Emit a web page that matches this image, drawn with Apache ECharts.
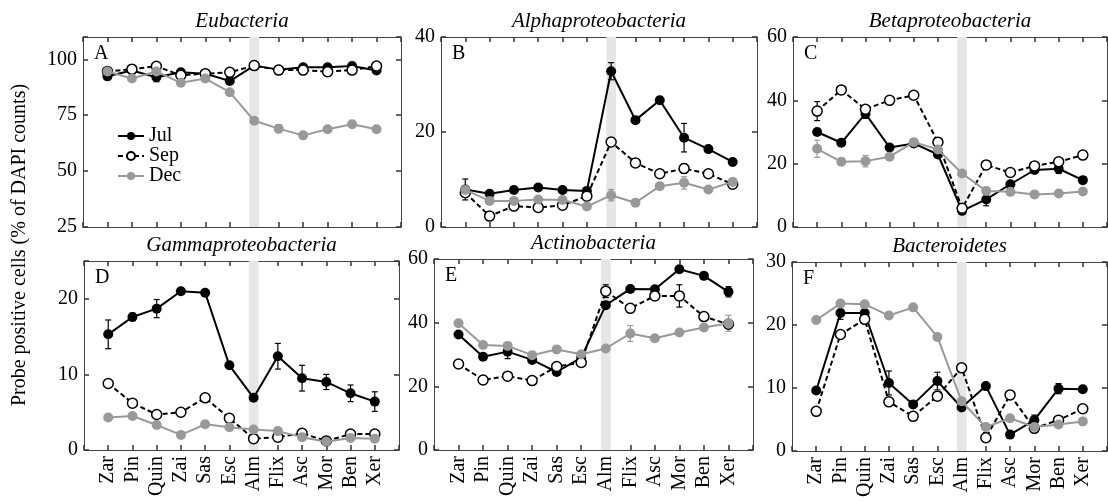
<!DOCTYPE html>
<html>
<head>
<meta charset="utf-8">
<script src="https://cdn.jsdelivr.net/npm/echarts@6/dist/echarts.min.js"></script>
<style>
  html, body { margin: 0; padding: 0; background: #fff; }
  #chart { width: 1108px; height: 502px; }
</style>
</head>
<body>
<div id="chart"></div>
<script>
// sampling sites along the river
const cats = ['Zar', 'Pin', 'Quin', 'Zai', 'Sas', 'Esc', 'Alm', 'Flix', 'Asc', 'Mor', 'Ben', 'Xer'];
const months = ['Jul', 'Sep', 'Dec'];
const titles = ['Eubacteria', 'Alphaproteobacteria', 'Betaproteobacteria',
  'Gammaproteobacteria', 'Actinobacteria', 'Bacteroidetes'];
const letters = ['A', 'B', 'C', 'D', 'E', 'F'];
const yTitle = 'Probe positive cells (% of DAPI counts)';

// y ranges: [min, max, label step]
const yRanges = [[25, 110, 25], [0, 40, 20], [0, 60, 20], [0, 25, 10], [0, 60, 20], [0, 30, 10]];

// Eubacteria
const euJul = [92.4, 95, 92, 94.2, 93.6, 90.3, 97.2, 95.4, 96.5, 96.5, 97, 95];
const euSep = [94.6, 95.6, 96.9, 92.9, 93.6, 94.2, 97.2, 95.2, 95.2, 94.5, 95.2, 97];
const euDec = [94.6, 91.4, 94.6, 89.5, 91.4, 85.3, 72.5, 69, 66, 68.7, 71, 68.7];
const euJulErr = [1, 0, 2, 0, 0, 1, 0, 0, 0.8, 0.8, 0.6, 0.8];
const euSepErr = [0, 0, 0, 0, 0, 0, 0, 0, 0, 1.8, 0, 0];
const euDecErr = [0, 0, 0, 0, 0, 0, 0, 1.8, 0, 1.2, 0, 0];

// Alphaproteobacteria
const alJul = [7.9, 7.0, 7.8, 8.3, 7.8, 7.6, 32.8, 22.5, 26.7, 18.8, 16.4, 13.7];
const alSep = [7.2, 2.3, 4.4, 4.1, 4.6, 6.5, 17.9, 13.5, 11.2, 12.3, 11.2, 9.0];
const alDec = [7.8, 5.5, 5.5, 5.8, 5.7, 4.3, 6.7, 5.1, 8.6, 9.3, 7.9, 9.5];
const alJulErr = [2.2, 0, 0, 0, 0, 0, 1.8, 0, 0.7, 3, 0, 0];
const alSepErr = [0, 0, 0, 0, 0, 0, 0, 0, 0, 1, 0, 0.8];
const alDecErr = [0, 0, 0, 0, 0, 0, 1.2, 0, 0, 1.3, 0, 0];

// Betaproteobacteria
const beJul = [30.0, 26.6, 35.8, 25.1, 26.4, 22.9, 5.1, 8.7, 13.5, 18.0, 18.4, 14.8];
const beSep = [36.6, 43.3, 37.2, 40.0, 41.6, 26.8, 5.9, 19.6, 17.2, 19.3, 20.6, 22.7];
const beDec = [24.7, 20.6, 20.8, 22.2, 26.8, 24.5, 16.9, 11.4, 11.1, 10.3, 10.6, 11.2];
const beJulErr = [0, 0, 1.5, 0, 0, 0, 0, 2, 0, 0, 1.5, 0];
const beSepErr = [3, 0, 0, 0, 0, 0, 0, 0, 0, 0, 0, 0];
const beDecErr = [2.7, 0, 1.8, 0, 0, 0, 0, 0, 0, 0, 0, 0];

// Gammaproteobacteria
const gaJul = [15.3, 17.6, 18.7, 21.0, 20.8, 11.2, 6.9, 12.4, 9.5, 9.0, 7.5, 6.4];
const gaSep = [8.8, 6.2, 4.7, 5.0, 6.9, 4.2, 1.5, 1.7, 2.2, 1.2, 2.1, 2.1];
const gaDec = [4.3, 4.5, 3.3, 2.0, 3.4, 3.0, 2.7, 2.5, 1.7, 1.1, 1.6, 1.5];
const gaJulErr = [1.9, 0.5, 1.2, 0, 0, 0, 0, 1.7, 1.7, 1.0, 1.1, 1.3];
const gaSepErr = [0, 0, 0, 0, 0, 0, 0, 0, 0, 0, 0, 0];
const gaDecErr = [0, 0, 0, 0, 0, 0, 0, 0, 0, 0, 0, 0];

// Actinobacteria
const acJul = [36.3, 29.3, 30.9, 28.3, 24.5, 29.0, 45.5, 50.6, 50.5, 56.8, 54.7, 49.7];
const acSep = [27.0, 22.0, 23.2, 21.8, 26.2, 27.5, 49.9, 44.5, 48.4, 48.4, 41.9, 39.5];
const acDec = [39.8, 33.0, 32.7, 29.8, 31.6, 30.1, 31.9, 36.6, 35.1, 36.9, 38.5, 39.8];
const acJulErr = [0, 0, 2.2, 0, 0, 0, 0, 0, 0, 0, 0, 1.6];
const acSepErr = [0, 0, 0, 0, 0, 0, 2, 0, 0, 3.5, 0, 0];
const acDecErr = [0, 0, 0, 0, 0, 0, 0, 2.5, 0, 0, 0, 2.5];

// Bacteroidetes
const baJul = [9.6, 21.9, 21.9, 10.8, 7.4, 11.1, 6.9, 10.3, 2.6, 4.9, 9.9, 9.8];
const baSep = [6.3, 18.5, 20.9, 7.8, 5.5, 8.7, 13.2, 2.1, 8.9, 3.6, 4.9, 6.7];
const baDec = [20.8, 23.4, 23.3, 21.5, 22.8, 18.1, 7.9, 3.8, 5.2, 3.8, 4.2, 4.7];
const baJulErr = [0, 1, 0, 1.9, 0, 1.4, 0, 0, 0, 0.8, 0.8, 0];
const baSepErr = [0, 0, 0, 0, 0, 0, 0, 0, 0, 0, 0, 0];
const baDecErr = [0, 0, 0, 0, 0, 0, 0, 0, 0, 0, 0, 0];

const panelVals = [
  [euJul, euSep, euDec], [alJul, alSep, alDec], [beJul, beSep, beDec],
  [gaJul, gaSep, gaDec], [acJul, acSep, acDec], [baJul, baSep, baDec]
];
const panelErrs = [
  [euJulErr, euSepErr, euDecErr], [alJulErr, alSepErr, alDecErr], [beJulErr, beSepErr, beDecErr],
  [gaJulErr, gaSepErr, gaDecErr], [acJulErr, acSepErr, acDecErr], [baJulErr, baSepErr, baDecErr]
];

// layout
const FONT = '"Liberation Serif", "DejaVu Serif", serif';
const AXIS = '#444';
const GRAY = '#999';
const grids = [
  { left: 83, top: 37, width: 318, height: 190 },
  { left: 441, top: 37, width: 316, height: 190 },
  { left: 793, top: 37, width: 314, height: 190 },
  { left: 84, top: 261, width: 315, height: 189 },
  { left: 434, top: 259, width: 319, height: 191 },
  { left: 792, top: 262, width: 315, height: 189 }
];
const monthStyle = [
  { symbolColor: '#000', border: '#000', line: '#000', type: 'solid', z: 3 },
  { symbolColor: '#fff', border: '#000', line: '#000', type: [5, 3], z: 4 },
  { symbolColor: GRAY, border: GRAY, line: GRAY, type: 'solid', z: 5 }
];

const xAxes = [];
const yAxes = [];
const series = [];
const graphics = [];

grids.forEach((g, i) => {
  const [yMin, yMax, step] = yRanges[i];
  const bottomRow = i >= 3;
  const tick = { show: true, inside: true, length: 5, lineStyle: { color: '#333', width: 1.5 } };
  const line = { show: true, onZero: false, lineStyle: { color: AXIS, width: 1 } };

  xAxes.push({
    gridIndex: i, type: 'value', position: 'bottom', min: -1, max: 12, interval: 1,
    axisLine: line, splitLine: { show: false }, axisTick: tick,
    axisLabel: {
      show: bottomRow, rotate: 90, margin: 6, fontSize: 20, fontFamily: FONT, color: '#000',
      formatter: v => cats[v] || ''
    }
  });
  xAxes.push({
    gridIndex: i, type: 'value', position: 'top', min: -1, max: 12, interval: 1,
    axisLine: line, splitLine: { show: false }, axisTick: tick,
    axisLabel: { show: false }
  });
  yAxes.push({
    gridIndex: i, type: 'value', position: 'left', min: yMin, max: yMax, interval: step,
    axisLine: line, splitLine: { show: false }, axisTick: tick,
    axisLabel: {
      margin: 6, fontSize: 20, fontFamily: FONT, color: '#000',
      formatter: v => ((v - yMin) % step === 0 ? String(v) : '')
    }
  });
  yAxes.push({
    gridIndex: i, type: 'value', position: 'right', min: yMin, max: yMax, interval: step,
    axisLine: line, splitLine: { show: false }, axisTick: tick,
    axisLabel: { show: false }
  });

  // Alm band
  series.push({
    type: 'line', xAxisIndex: 2 * i, yAxisIndex: 2 * i, data: [], z: 1, silent: true,
    markArea: {
      silent: true, itemStyle: { color: '#e6e6e6' },
      data: [[{ xAxis: 5.8 }, { xAxis: 6.2 }]]
    }
  });

  months.forEach((m, k) => {
    const vals = panelVals[i][k];
    const errs = panelErrs[i][k];
    const st = monthStyle[k];
    const errData = vals.map((v, j) => [j, v, errs[j]]).filter(d => d[2] > 0);
    if (errData.length) {
      series.push({
        type: 'custom', xAxisIndex: 2 * i, yAxisIndex: 2 * i, z: 2, silent: true,
        data: errData,
        renderItem: (params, api) => {
          const x = api.value(0), y = api.value(1), e = api.value(2);
          const hi = api.coord([x, y + e]);
          const lo = api.coord([x, y - e]);
          const s = { stroke: st.line, lineWidth: 1.2 };
          return {
            type: 'group',
            children: [
              { type: 'line', shape: { x1: hi[0], y1: hi[1], x2: lo[0], y2: lo[1] }, style: s },
              { type: 'line', shape: { x1: hi[0] - 3, y1: hi[1], x2: hi[0] + 3, y2: hi[1] }, style: s },
              { type: 'line', shape: { x1: lo[0] - 3, y1: lo[1], x2: lo[0] + 3, y2: lo[1] }, style: s }
            ]
          };
        }
      });
    }
    series.push({
      name: m, type: 'line', xAxisIndex: 2 * i, yAxisIndex: 2 * i, z: st.z,
      data: vals.map((v, j) => [j, v]),
      symbol: 'circle', symbolSize: 10, showAllSymbol: true,
      itemStyle: { color: st.symbolColor, borderColor: st.border, borderWidth: k === 1 ? 1.5 : 0 },
      lineStyle: { color: st.line, width: 2, type: st.type }
    });
  });

  graphics.push({
    type: 'text', x: g.left + g.width / 2, y: g.top - 16,
    style: { text: titles[i], font: 'italic 21px ' + FONT, fill: '#000', textAlign: 'center', textVerticalAlign: 'middle' }
  });
  graphics.push({
    type: 'text', x: g.left + 11, y: g.top + 7,
    style: { text: letters[i], font: '20px ' + FONT, fill: '#000', textAlign: 'left', textVerticalAlign: 'top' }
  });
});

graphics.push({
  type: 'text', x: 20, y: 245, rotation: Math.PI / 2,
  style: { text: yTitle, font: '20px ' + FONT, fill: '#000', textAlign: 'center', textVerticalAlign: 'middle' }
});

const chart = echarts.init(document.getElementById('chart'));
chart.setOption({
  animation: false,
  backgroundColor: '#fff',
  grid: grids,
  xAxis: xAxes,
  yAxis: yAxes,
  legend: {
    data: months, orient: 'vertical', left: 117, top: 126, padding: 0,
    itemWidth: 26, itemHeight: 10, itemGap: 0, selectedMode: false,
    textStyle: { fontFamily: FONT, fontSize: 20, color: '#000', lineHeight: 19 }
  },
  graphic: graphics,
  series: series
});
</script>
</body>
</html>
